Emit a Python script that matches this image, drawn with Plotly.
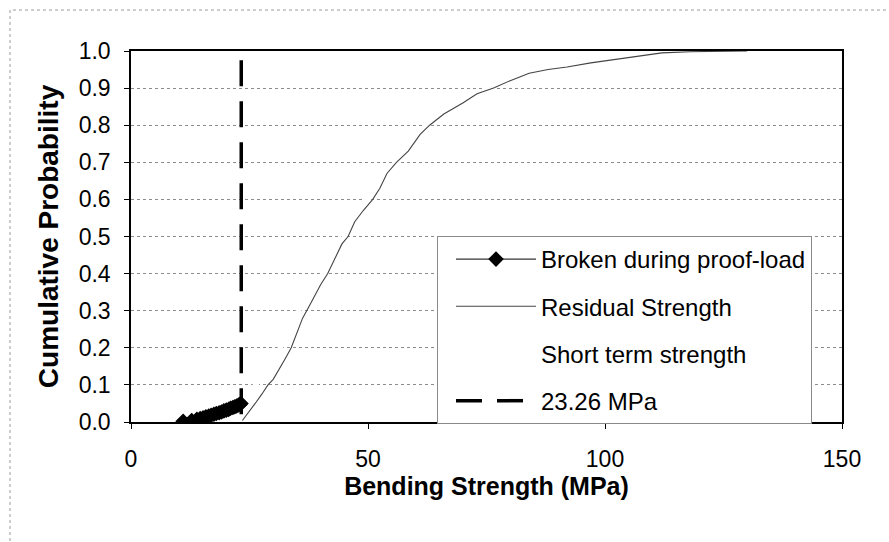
import plotly.graph_objects as go

# Specimens that failed during the proof-load (MPa, cumulative probability)
broken_x = [11.0, 12.8, 13.9, 14.6, 15.2, 15.8, 16.4, 16.9, 17.5, 18.0, 18.6,
            19.1, 19.6, 20.1, 20.6, 21.0, 21.5, 21.9, 22.3, 22.7, 23.0, 23.2]
broken_y = [0.002, 0.004, 0.007, 0.009, 0.011, 0.014, 0.016, 0.018, 0.021, 0.023, 0.025,
            0.027, 0.030, 0.032, 0.034, 0.037, 0.039, 0.041, 0.043, 0.046, 0.048, 0.050]

# Residual strength of the surviving specimens
residual_x = [23.5, 24.8, 26.2, 27.6, 28.9, 30.0, 31.2, 32.5, 33.8, 35.0, 36.2, 37.5,
              38.7, 40.0, 41.5, 43.0, 44.5, 45.8, 47.2, 49.0, 51.0, 52.5, 54.0, 56.0,
              58.5, 61.0, 63.0, 66.0, 70.0, 73.0, 76.5, 80.0, 84.0, 88.0, 92.0, 97.0,
              101.5, 105.0, 108.0, 112.0, 118.0, 130.0]
residual_y = [0.004, 0.025, 0.050, 0.075, 0.100, 0.115, 0.140, 0.170, 0.200, 0.240, 0.280, 0.310,
              0.340, 0.370, 0.400, 0.440, 0.480, 0.500, 0.540, 0.570, 0.600, 0.630, 0.670, 0.700,
              0.730, 0.775, 0.800, 0.830, 0.860, 0.885, 0.900, 0.920, 0.940, 0.950, 0.957, 0.968,
              0.976, 0.984, 0.989, 0.995, 0.998, 1.000]

# Short term strength (white series)
short_x = [10.5, 14.0, 18.0, 21.0, 23.3, 25.0, 26.3, 28.5, 31.5, 35.3, 38.0, 40.5, 43.0,
           45.0, 47.5, 50.0, 53.0, 55.8, 59.0, 62.5, 68.0, 75.5, 83.0, 90.0, 100.0, 110.0, 125.0]
short_y = [0.000, 0.005, 0.020, 0.035, 0.050, 0.080, 0.100, 0.140, 0.200, 0.300, 0.350, 0.400, 0.450,
           0.500, 0.550, 0.600, 0.650, 0.700, 0.750, 0.800, 0.850, 0.900, 0.935, 0.955, 0.975, 0.990, 1.000]

# Proof-load level (drawn from the top down)
proof_x = [23.26, 23.26]
proof_y = [0.975, 0.0]

x_ticks = [0, 50, 100, 150]
y_ticks = [0.0, 0.1, 0.2, 0.3, 0.4, 0.5, 0.6, 0.7, 0.8, 0.9, 1.0]

FONT = "Liberation Sans, Arial, sans-serif"

W, H = 889, 542
ML, MR, MT, MB = 131, 47, 51, 120
PW, PH = W - ML - MR, H - MT - MB

fig = go.Figure()

fig.add_trace(go.Scatter(
    x=short_x, y=short_y, mode="lines", name="Short term strength",
    line=dict(color="white", width=5), legendrank=3, legendgroup="c"))

fig.add_trace(go.Scatter(
    x=broken_x, y=broken_y, mode="lines+markers", name="Broken during proof-load",
    line=dict(color="black", width=1),
    marker=dict(symbol="diamond", size=12, color="black"),
    legendrank=1, legendgroup="a"))

fig.add_trace(go.Scatter(
    x=residual_x, y=residual_y, mode="lines", name="Residual Strength",
    line=dict(color="#444444", width=1.1), legendrank=2, legendgroup="b"))

fig.add_trace(go.Scatter(
    x=proof_x, y=proof_y, mode="lines", name="23.26 MPa",
    line=dict(color="black", width=3.5, dash="26px,15px"),
    legendrank=4, legendgroup="d"))

# Outer dotted frame of the chart
def px_to_paper_x(px):
    return (px - ML) / PW

def px_to_paper_y(py):
    return (H - MB - py) / PH

fig.add_shape(type="rect", xref="paper", yref="paper",
              x0=px_to_paper_x(10), x1=px_to_paper_x(905),
              y0=px_to_paper_y(560), y1=px_to_paper_y(10),
              line=dict(color="#9a9a9a", width=1, dash="dot"),
              fillcolor="rgba(0,0,0,0)", layer="below")

fig.update_layout(
    width=W, height=H,
    margin=dict(l=ML, r=MR, t=MT, b=MB, pad=0),
    paper_bgcolor="white", plot_bgcolor="white",
    font=dict(family=FONT, color="black", size=23),
    showlegend=True,
    legend=dict(
        x=px_to_paper_x(437), y=px_to_paper_y(236),
        xanchor="left", yanchor="top",
        bgcolor="white", bordercolor="#8a8a8a", borderwidth=1,
        font=dict(family=FONT, size=24, color="black"),
        itemwidth=80, tracegroupgap=13, indentation=13,
    ),
)

fig.update_xaxes(
    range=[0, 150], tickvals=x_ticks, ticktext=[str(v) for v in x_ticks],
    showgrid=False, zeroline=False,
    showline=True, linecolor="black", linewidth=1.5, mirror=True,
    ticks="outside", ticklen=5, tickcolor="black", tickwidth=1,
    ticklabelstandoff=11,
    tickfont=dict(family=FONT, size=23),
    title=dict(text="<b>Bending Strength (MPa)</b>", standoff=2,
               font=dict(family=FONT, size=25)),
)

fig.update_yaxes(
    range=[0, 1.0], tickvals=y_ticks, ticktext=[f"{v:.1f}" for v in y_ticks],
    showgrid=True, gridcolor="#8c8c8c", griddash="dot", gridwidth=1,
    zeroline=False,
    showline=True, linecolor="black", linewidth=1.5, mirror=True,
    ticks="outside", ticklen=5, tickcolor="black", tickwidth=1,
    ticklabelstandoff=9,
    tickfont=dict(family=FONT, size=23),
    title=dict(text="<b>Cumulative Probability</b>", standoff=12,
               font=dict(family=FONT, size=28)),
)

fig.write_html("out.html")
